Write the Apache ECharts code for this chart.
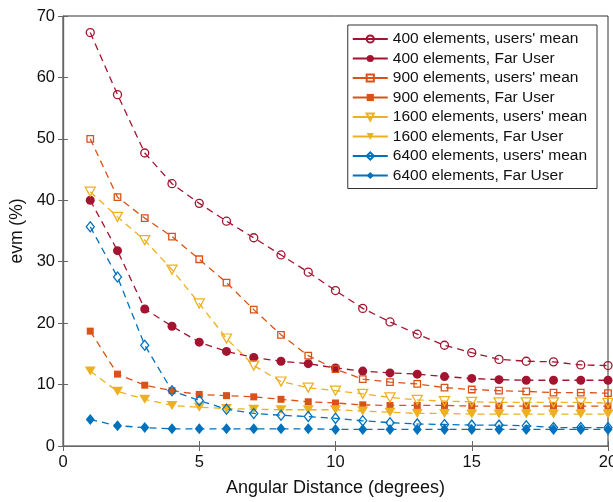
<!DOCTYPE html>
<html>
<head>
<meta charset="utf-8">
<script src="https://cdn.jsdelivr.net/npm/echarts@6/dist/echarts.min.js"></script>
<style>
html, body { margin: 0; padding: 0; background: #fff; }
#chart { width: 613px; height: 502px; }
</style>
</head>
<body>
<div id="chart"></div>
<script>
// angular distance (degrees)
const angles = [1, 2, 3, 4, 5, 6, 7, 8, 9, 10, 11, 12, 13, 14, 15, 16, 17, 18, 19, 20];

// evm (%) per configuration
const mean400 = [67.3, 57.2, 47.7, 42.7, 39.5, 36.6, 33.9, 31.1, 28.3, 25.3, 22.4, 20.2, 18.2, 16.4, 15.2, 14.1, 13.8, 13.7, 13.2, 13.1];
const far400 = [40.0, 31.8, 22.3, 19.5, 16.9, 15.4, 14.4, 13.8, 13.4, 12.7, 12.2, 11.9, 11.7, 11.3, 11.0, 10.8, 10.7, 10.7, 10.7, 10.7];
const mean900 = [50.0, 40.5, 37.1, 34.1, 30.4, 26.6, 22.2, 18.1, 14.7, 12.5, 10.9, 10.4, 10.1, 9.5, 9.2, 9.0, 8.9, 8.7, 8.7, 8.6];
const far900 = [18.7, 11.7, 9.9, 9.0, 8.4, 8.2, 8.0, 7.6, 7.2, 7.0, 6.7, 6.6, 6.6, 6.6, 6.5, 6.5, 6.5, 6.5, 6.5, 6.5];
const mean1600 = [41.4, 37.3, 33.5, 28.7, 23.2, 17.5, 13.1, 10.5, 9.5, 9.0, 8.5, 7.9, 7.5, 7.3, 7.2, 7.1, 7.1, 7.1, 7.1, 7.0];
const far1600 = [12.2, 8.9, 7.6, 6.6, 6.3, 6.1, 6.0, 5.9, 5.9, 5.9, 5.7, 5.5, 5.3, 5.3, 5.2, 5.2, 5.2, 5.2, 5.2, 5.2];
const mean6400 = [35.7, 27.5, 16.4, 9.0, 7.4, 6.0, 5.3, 5.0, 4.8, 4.5, 4.1, 3.8, 3.6, 3.5, 3.4, 3.4, 3.3, 3.0, 3.0, 3.0];
const far6400 = [4.3, 3.3, 3.0, 2.8, 2.8, 2.8, 2.8, 2.8, 2.8, 2.7, 2.7, 2.7, 2.7, 2.7, 2.7, 2.7, 2.7, 2.7, 2.7, 2.7];

const xTicks = [0, 5, 10, 15, 20];
const yTicks = [0, 10, 20, 30, 40, 50, 60, 70];

const RED = '#A2142F', ORANGE = '#D95319', YELLOW = '#EDB120', BLUE = '#0072BD';
const FONT = '"Liberation Sans", Arial, Helvetica, sans-serif';

const pairs = (ys) => ys.map((y, i) => [angles[i], y]);

// open markers are drawn hollow (line shows through), filled ones solid
const makeSeries = (name, data, color, symbol, size, open, rotate) => ({
	name: name,
	type: 'line',
	data: pairs(data),
	symbol: symbol,
	symbolSize: size,
	symbolRotate: rotate || 0,
	showAllSymbol: true,
	lineStyle: { color: color, width: 1.3, type: [7, 5] },
	itemStyle: open
		? { color: 'rgba(255,255,255,0)', borderColor: color, borderWidth: 1.3 }
		: { color: color, borderColor: color, borderWidth: 0 },
	emphasis: { disabled: true },
	animation: false
});

const series = [
	makeSeries("400 elements, users' mean", mean400, RED, 'circle', 8, true),
	makeSeries('400 elements, Far User', far400, RED, 'circle', 9, false),
	makeSeries("900 elements, users' mean", mean900, ORANGE, 'rect', 6.5, true),
	makeSeries('900 elements, Far User', far900, ORANGE, 'rect', 7, false),
	makeSeries("1600 elements, users' mean", mean1600, YELLOW, 'triangle', [10, 9], true, 180),
	makeSeries('1600 elements, Far User', far1600, YELLOW, 'triangle', [11, 9], false, 180),
	makeSeries("6400 elements, users' mean", mean6400, BLUE, 'diamond', [8, 10], true),
	makeSeries('6400 elements, Far User', far6400, BLUE, 'diamond', [9, 11], false)
];

const chart = echarts.init(document.getElementById('chart'), null, { renderer: 'canvas' });

const axisCommon = {
	axisLine: { show: true, lineStyle: { color: '#666', width: 1.2 } },
	axisTick: { show: true, inside: true, length: 5, lineStyle: { color: '#666' } },
	splitLine: { show: false }
};

chart.setOption({
	animation: false,
	textStyle: { fontFamily: FONT },
	grid: {
		left: 63, right: 5, top: 16, bottom: 56,
		outerBoundsMode: 'none',
		show: true, borderColor: '#333', borderWidth: 1
	},
	legend: {
		orient: 'vertical',
		right: 16,
		top: 25,
		backgroundColor: '#fff',
		borderColor: '#333',
		borderWidth: 1,
		padding: [6, 10, 5, 4],
		itemWidth: 35,
		itemHeight: 9,
		itemGap: 3.5,
		lineStyle: { type: 'solid' },
		textStyle: { fontFamily: FONT, fontSize: 15.5, color: '#111' },
		data: series.map(s => s.name)
	},
	xAxis: [
		Object.assign({
			type: 'value', min: 0, max: 20, interval: 5,
			name: 'Angular Distance (degrees)', nameLocation: 'middle', nameGap: 33,
			nameTextStyle: { fontFamily: FONT, fontSize: 18, color: '#111' },
			axisLabel: { fontFamily: FONT, fontSize: 16.5, color: '#111', margin: 8,
				formatter: v => xTicks.includes(v) ? String(v) : '' }
		}, axisCommon),
		Object.assign({
			type: 'value', min: 0, max: 20, interval: 5, position: 'top',
			axisLabel: { show: false }
		}, axisCommon)
	],
	yAxis: [
		Object.assign({
			type: 'value', min: 0, max: 70, interval: 10,
			name: 'evm (%)', nameLocation: 'middle', nameGap: 30,
			nameTextStyle: { fontFamily: FONT, fontSize: 17.5, color: '#111' },
			axisLabel: { fontFamily: FONT, fontSize: 16.5, color: '#111', margin: 8,
				formatter: v => yTicks.includes(v) ? String(v) : '' }
		}, axisCommon),
		Object.assign({
			type: 'value', min: 0, max: 70, interval: 10, position: 'right',
			axisLabel: { show: false }
		}, axisCommon)
	],
	series: series
});
</script>
</body>
</html>
